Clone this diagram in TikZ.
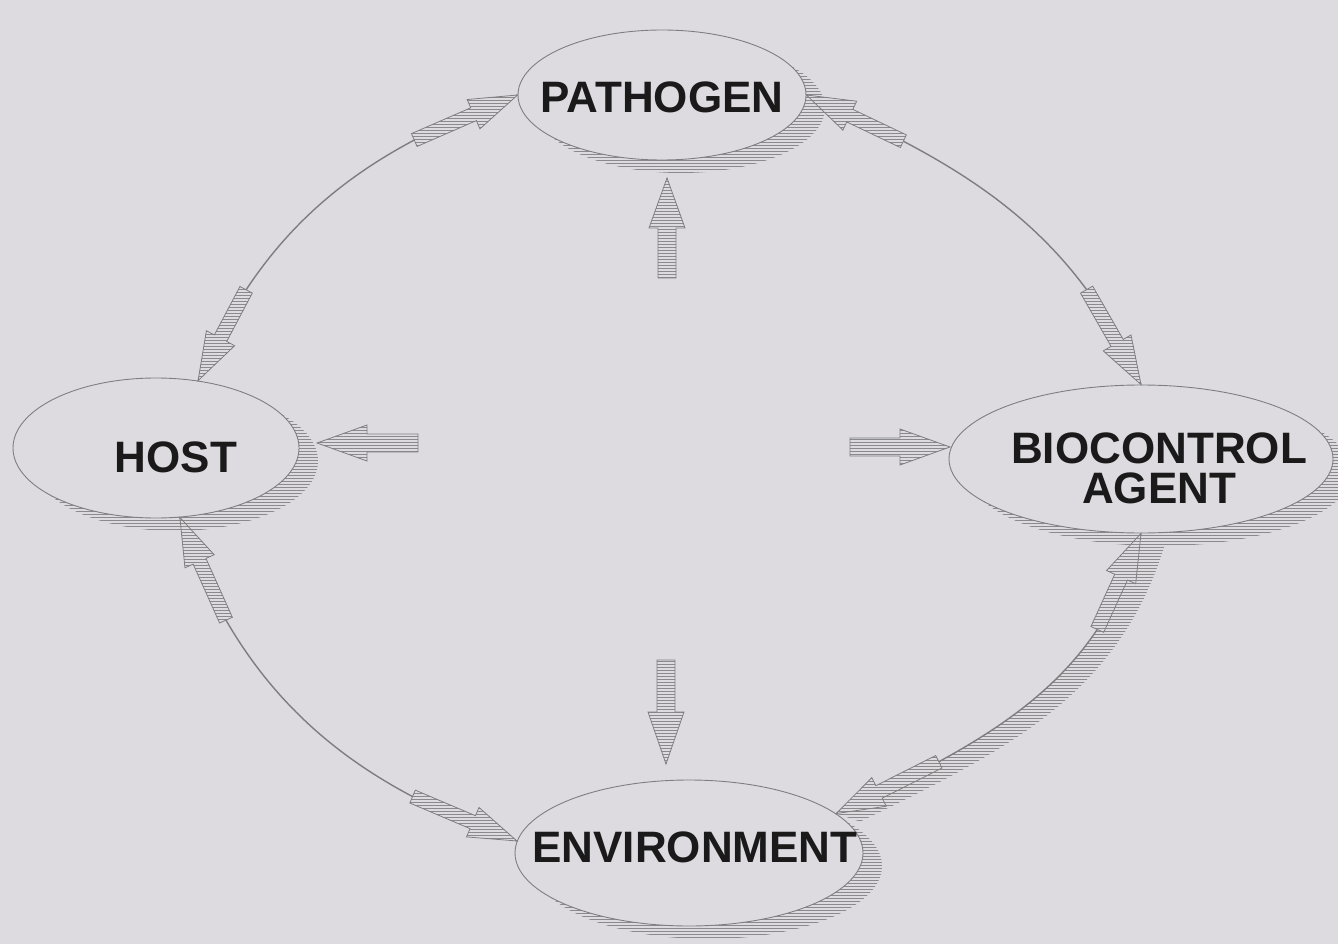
\documentclass[tikz,border=0pt]{standalone}
\usepackage{fontspec}
\setmainfont{Liberation Sans}
\usetikzlibrary{calc,patterns,shadows,shapes.geometric}
\definecolor{bg}{HTML}{DDDBE0}
\definecolor{ln}{HTML}{7E7E80}
\definecolor{ht}{HTML}{8A8A8C}
\definecolor{ink}{HTML}{1A1A1A}
\tikzset{
  ellbox/.style={ellipse, draw=ln, line width=0.9pt, fill=bg, inner sep=0pt,
    general shadow={shadow xshift=19pt, shadow yshift=-13pt, pattern=horizontal lines, pattern color=ht}},
  lbl/.style={text=ink, font=\fontsize{44pt}{40pt}\selectfont\bfseries, align=center, inner sep=0pt},
  arcline/.style={draw=ln, line width=1.4pt},
  blockfill/.style={preaction={fill=bg}, pattern=horizontal lines, pattern color=ht, draw=ln, line width=0.8pt, line join=miter},
  bandhatch/.style={pattern=horizontal lines, pattern color=ht}
}
\newcommand\blockarr[5]{%
  \coordinate (ba-b) at ($(#2)!#5!(#1)$);
  \path[blockfill] ($(#1)!#3!90:(#2)$) -- ($(ba-b)!#3!-90:(#1)$) -- ($(ba-b)!#4!-90:(#1)$) -- (#2)
    -- ($(ba-b)!#4!90:(#1)$) -- ($(ba-b)!#3!90:(#1)$) -- ($(#1)!#3!-90:(#2)$) -- cycle;
}
\begin{document}
\begin{tikzpicture}[x=1pt,y=-1pt]
\fill[bg] (0,0) rectangle (1338,944);
\useasboundingbox (0,0) rectangle (1338,944);

% ellipses
\node[ellbox, minimum width=288pt, minimum height=130pt] (pat) at (662,95) {};
\node[ellbox, minimum width=286pt, minimum height=140pt] (host) at (156,448) {};
\node[ellbox, minimum width=384pt, minimum height=148pt] (bio) at (1141,459) {};
\node[ellbox, minimum width=348pt, minimum height=146pt] (env) at (689,853) {};

% hatched band along lower right arc (shadow of the connector)
\path[bandhatch] (bio.south) to[out=254,in=26] (env.15)
  -- ([shift={(24pt,-8pt)}]env.15) to[out=26,in=254] ([shift={(26pt,-4pt)}]bio.south) -- cycle;

% arcs
\draw[arcline] (pat.west) to[out=200,in=67]
  node[coordinate,pos=0.24] (tlA) {} node[coordinate,pos=0.78] (tlB) {} (host.58);
\draw[arcline] (pat.east) to[out=-24,in=114]
  node[coordinate,pos=0.22] (trA) {} node[coordinate,pos=0.77] (trB) {} (bio.north);
\draw[arcline] (host.-71) to[out=-71,in=161]
  node[coordinate,pos=0.22] (blA) {} node[coordinate,pos=0.78] (blB) {} (env.176);
\draw[arcline] (bio.south) to[out=254,in=26]
  node[coordinate,pos=0.24] (brA) {} node[coordinate,pos=0.75] (brB) {} (env.15);

% arc arrows
\blockarr{tlA}{pat.west}{7pt}{16pt}{48pt}
\blockarr{tlB}{host.58}{7pt}{16pt}{48pt}
\blockarr{trA}{pat.east}{7pt}{16pt}{48pt}
\blockarr{trB}{bio.north}{7pt}{16pt}{48pt}
\blockarr{blA}{host.-71}{7pt}{16pt}{48pt}
\blockarr{blB}{env.176}{7pt}{16pt}{48pt}
\blockarr{brA}{bio.south}{7pt}{16pt}{48pt}
\blockarr{brB}{env.15}{7pt}{16pt}{48pt}

% central arrows
\coordinate (cuT) at (667,278); \coordinate (cuH) at (667,178);
\coordinate (clT) at (418,443); \coordinate (clH) at (317,443);
\coordinate (crT) at (850,447); \coordinate (crH) at (950,447);
\coordinate (cdT) at (666,660); \coordinate (cdH) at (666,764);
\blockarr{cuT}{cuH}{9pt}{18pt}{50pt}
\blockarr{clT}{clH}{9pt}{18pt}{50pt}
\blockarr{crT}{crH}{9pt}{18pt}{50pt}
\blockarr{cdT}{cdH}{9pt}{18pt}{52pt}

% labels
\node[lbl] (patT) at (662,97) {PATHOGEN};
\node[lbl] (hostT) at (176,457) {HOST};
\node[lbl] (bioT) at (1159,468) {BIOCONTROL\\AGENT};
\node[lbl] (envT) at (695,847) {ENVIRONMENT};
\end{tikzpicture}
\end{document}
